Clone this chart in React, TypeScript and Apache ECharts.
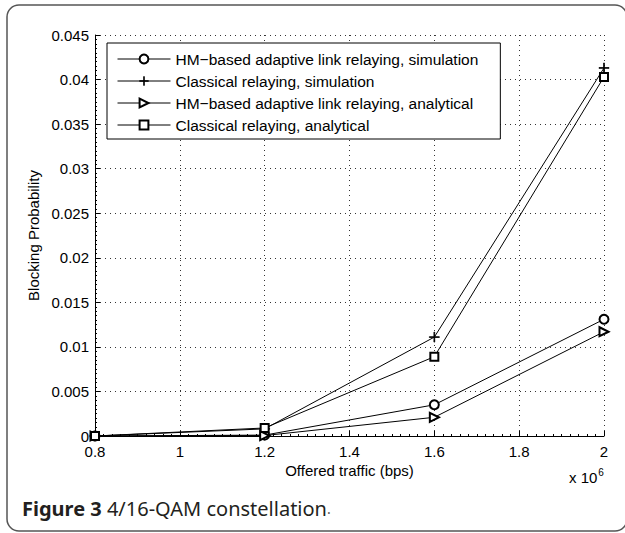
import React, { useEffect, useRef } from "react";
import * as echarts from "echarts";

const trafficMbps = [0.8, 1.2, 1.6, 2.0];
const hmSimulation = [0, 0.0001, 0.0035, 0.0131];
const classicalSimulation = [0, 0.0008, 0.0111, 0.0413];
const hmAnalytical = [0, 0.00005, 0.0021, 0.0117];
const classicalAnalytical = [0, 0.0009, 0.0089, 0.0403];

const seriesNames = [
  "HM\u2212based adaptive link relaying, simulation",
  "Classical relaying, simulation",
  "HM\u2212based adaptive link relaying, analytical",
  "Classical relaying, analytical",
];

const xAxisTitle = "Offered traffic (bps)";
const yAxisTitle = "Blocking Probability";
const captionBold = "Figure 3";
const captionText = "4/16-QAM constellation";

const FONT = "Liberation Sans, Arial, Helvetica, sans-serif";
const PLUS = "path://M4.6,0H5.4V10H4.6Z M0,4.6H10V5.4H0Z";

export default function App() {
  const ref = useRef<HTMLDivElement>(null);
  useEffect(() => {
    if (!ref.current) return;
    const chart = echarts.init(ref.current, undefined, { renderer: "svg" });
    const mk = (name: string, vals: number[], symbol: string, size: number, rotate = 0) => ({
      name,
      type: "line",
      data: trafficMbps.map((x, i) => [x, vals[i]]),
      symbol,
      symbolSize: size,
      symbolRotate: rotate,
      lineStyle: { color: "#000", width: 1 },
      itemStyle: { color: "#000", borderColor: "#000", borderWidth: 0.8 },
      emphasis: { disabled: true },
    });
    chart.setOption({
      animation: false,
      backgroundColor: "#fff",
      grid: { left: 95, right: 21, top: 35, bottom: 97, containLabel: false },
      legend: {
        orient: "vertical",
        left: 107,
        top: 43,
        itemWidth: 53,
        itemHeight: 11,
        itemGap: 4,
        padding: [7, 22, 5, 10],
        borderColor: "#000",
        borderWidth: 1,
        borderRadius: 0,
        backgroundColor: "#fff",
        selectedMode: false,
        lineStyle: { width: 1, color: "#000" },
        itemStyle: { borderWidth: 0.8, borderColor: "#000" },
        textStyle: { fontFamily: FONT, fontSize: 15.5, color: "#000", lineHeight: 18 },
        data: seriesNames,
      },
      xAxis: {
        type: "value",
        min: 0.8,
        max: 2,
        interval: 0.2,
        name: xAxisTitle,
        nameLocation: "middle",
        nameGap: 25,
        nameTextStyle: { fontFamily: FONT, fontSize: 15, color: "#000" },
        axisLine: { show: true, onZero: false, lineStyle: { color: "#000", width: 1 } },
        axisTick: { show: true, inside: true, length: 5, lineStyle: { color: "#000" } },
        minorTick: { show: true, splitNumber: 10, length: 2, lineStyle: { color: "#000" } },
        axisLabel: {
          fontFamily: FONT,
          fontSize: 15,
          lineHeight: 14,
          color: "#000",
          margin: 8,
          formatter: (v: number) => String(Math.round(v * 10) / 10),
        },
        splitLine: { show: true, lineStyle: { color: "#333", type: [1, 4], width: 1 } },
      },
      yAxis: {
        type: "value",
        min: 0,
        max: 0.045,
        interval: 0.005,
        name: yAxisTitle,
        nameLocation: "middle",
        nameGap: 49,
        nameTextStyle: { fontFamily: FONT, fontSize: 15, color: "#000" },
        axisLine: { show: true, lineStyle: { color: "#000", width: 1 } },
        axisTick: { show: true, inside: true, length: 5, lineStyle: { color: "#000" } },
        minorTick: { show: true, splitNumber: 10, length: 2, lineStyle: { color: "#000" } },
        axisLabel: {
          fontFamily: FONT,
          fontSize: 15,
          lineHeight: 12,
          color: "#000",
          margin: 6,
          formatter: (v: number) => String(Math.round(v * 1000) / 1000),
        },
        splitLine: { show: true, lineStyle: { color: "#333", type: [1, 4], width: 1 } },
      },
      graphic: [
        {
          type: "rect",
          shape: { x: 7, y: 5, width: 620, height: 526, r: 12 },
          style: { fill: "none", stroke: "#555", lineWidth: 1.5 },
          silent: true,
          z: -10,
        },
        {
          type: "text",
          left: 569,
          top: 467,
          style: {
            text: "x 10{s|6}",
            fontFamily: FONT,
            fontSize: 15,
            fill: "#000",
            rich: { s: { fontSize: 10, fontFamily: FONT, fill: "#000", verticalAlign: "top", padding: [0, 0, 10, 1] } },
          },
        },
        {
          type: "text",
          left: 22,
          top: 498,
          style: {
            text: `{b|${captionBold}} {n|${captionText}}{p|.}`,
            fontFamily: "Noto Sans, Open Sans, sans-serif",
            fontSize: 20,
            fill: "#231f20",
            rich: {
              b: { fontFamily: "Noto Sans", fontSize: 20, fontWeight: "bold", fill: "#231f20" },
              n: { fontFamily: "Noto Sans", fontSize: 20, fill: "#231f20" },
              p: { fontFamily: "Noto Sans", fontSize: 14, fill: "#555" },
            },
          },
        },
      ],
      series: [
        mk(seriesNames[0], hmSimulation, "emptyCircle", 9),
        mk(seriesNames[1], classicalSimulation, PLUS, 10),
        mk(seriesNames[2], hmAnalytical, "emptyTriangle", 9, -90),
        mk(seriesNames[3], classicalAnalytical, "emptyRect", 8),
      ],
    });
    return () => chart.dispose();
  }, []);
  return <div ref={ref} style={{ width: 625, height: 533, position: "absolute", left: 0, top: 0 }} />;
}
